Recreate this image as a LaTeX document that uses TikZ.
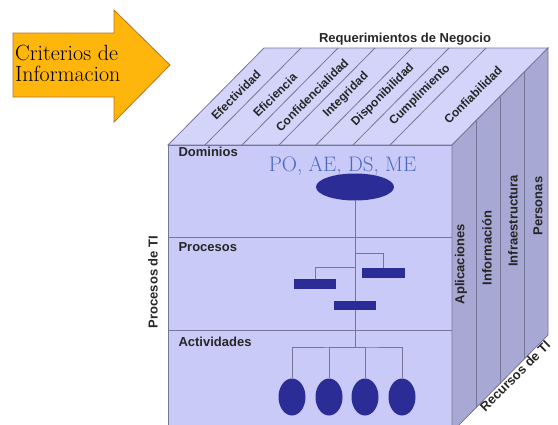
\documentclass[tikz,border=0pt]{standalone}
\usepackage{fontspec}
\setsansfont{Liberation Sans}
\usetikzlibrary{shapes.geometric,calc}
\definecolor{topface}{RGB}{212,212,250}
\definecolor{frontface}{RGB}{202,202,248}
\definecolor{sideface}{RGB}{168,168,212}
\definecolor{edgegray}{RGB}{118,118,150}
\definecolor{darkblue}{RGB}{44,44,150}
\definecolor{textblue}{RGB}{74,106,192}
\definecolor{arrowgold}{RGB}{255,182,12}
\definecolor{arrowbrown}{RGB}{190,112,30}
\begin{document}
\begin{tikzpicture}[x=1pt,y=-1pt,
    lab/.style={font=\sffamily\bfseries\fontsize{13}{15}\selectfont,text=black!85},
    toplab/.style={lab,font=\sffamily\bfseries\fontsize{12}{14}\selectfont,rotate=45},
    sidelab/.style={lab,rotate=90},
    blob/.style={ellipse,fill=darkblue,inner sep=0pt},
    bar/.style={rectangle,fill=darkblue,inner sep=0pt,minimum width=42pt,minimum height=10pt},
    edge/.style={draw=edgegray,line width=.8pt},
    branch/.style={draw=edgegray,line width=.7pt}]
\useasboundingbox (0,0) rectangle (558,424);
\clip (0,0) rectangle (558,424);

% flecha
\draw[fill=arrowgold,draw=arrowbrown,line width=.8pt](13,33)--(114,33)--(114,10)--(170,65)--(114,122)--(114,97)--(13,97)--cycle;
\node[font=\fontsize{22}{21}\selectfont,align=left,anchor=north west,inner sep=0pt] (crit) at (15,45) {Criterios de\\Informacion};

% cubo
\coordinate (fa) at (168,145);
\coordinate (fb) at (452,145);
\coordinate (fc) at (452,432);
\coordinate (fd) at (168,432);
\coordinate (ba) at (264,48);
\coordinate (bb) at (548,48);
\coordinate (bc) at (548,335);
\draw[edge,fill=topface](fa)--(ba)--(bb)--(fb)--cycle;
\draw[edge,fill=frontface](fa)--(fb)--(fc)--(fd)--cycle;
\draw[edge,fill=sideface](fb)--(bb)--(bc)--(fc)--cycle;

\foreach \x in {205,242,279,316,353,390}
    \draw[edge](\x,145)--+(96,-97);
\foreach \t in {.25,.5,.75}
    \draw[edge]($(fb)!\t!(bb)$)--($(fc)!\t!(bc)$);
\draw[edge](168,237)--(452,237);
\draw[edge](168,330)--(452,330);

% textos
\node[lab,anchor=base] (negocio) at (405,42) {Requerimientos de Negocio};
\foreach \x/\txt [count=\i] in {236/Efectividad,275/Eficiencia,312/Confidencialidad,346/Integridad,383/Disponibilidad,420/Cumplimiento,473/Confiabilidad}
    \node[toplab] (req\i) at (\x,95) {\txt};
\node[lab,anchor=base west] (dominios) at (175,156.5) {Dominios};
\node[lab,anchor=base west] (procesos) at (175,251.5) {Procesos};
\node[lab,anchor=base west] (actividades) at (175,346) {Actividades};
\node[lab,rotate=90] (procti) at (153,282) {Procesos de TI};
\node[sidelab] (apl) at (461,264) {Aplicaciones};
\node[sidelab] (info) at (487,248) {Información};
\node[sidelab] (infra) at (513,221) {Infraestructura};
\node[sidelab] (pers) at (538,206) {Personas};
\node[lab,rotate=45] (recursos) at (515,376) {Recursos de TI};
\node[font=\fontsize{21}{23}\selectfont,text=textblue,anchor=base] (siglas) at (342.5,171) {PO, AE, DS, ME};

% arbol
\node[blob,minimum width=78pt,minimum height=27pt] (dom) at (355,187) {};
\node[bar,minimum width=43pt] (p1) at (383.5,273) {};
\node[bar] (p2) at (315,284) {};
\node[bar,minimum height=9pt] (p3) at (355,305.5) {};
\foreach \x [count=\i] in {292,329,365,402}
    \node[blob,minimum width=27pt,minimum height=37pt] (a\i) at (\x,397) {};
\coordinate (j1) at (355,253);
\coordinate (j2) at (355,267);
\coordinate (hub) at (355,347);
\draw[branch](dom.south)--(p3.north);
\draw[branch](p3.south)--(hub);
\draw[branch](j1)-|(p1);
\draw[branch](j2)-|(p2);
\draw[branch](a1)|-(hub)-|(a4);
\draw[branch](hub)-|(a2);
\draw[branch](hub)-|(a3);

\end{tikzpicture}
\end{document}
